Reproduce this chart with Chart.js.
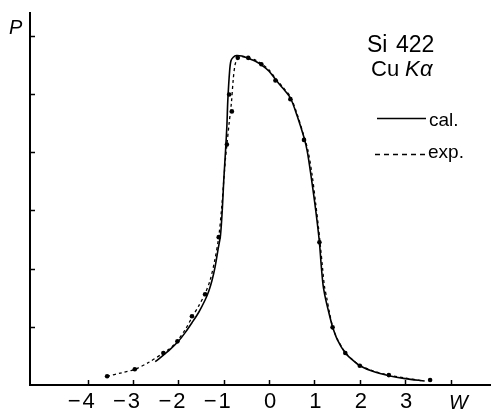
<!DOCTYPE html>
<html>
<head>
<meta charset="utf-8">
<script src="https://cdn.jsdelivr.net/npm/chart.js@4/dist/chart.umd.min.js"></script>
<style>
  html, body { margin: 0; padding: 0; background: #fff; }
  #chart { display: block; }
</style>
</head>
<body>
<canvas id="chart" width="494" height="411"></canvas>
<script>
// calculated curve (solid)
const calW = [-2.51, -2.21, -1.99, -1.85, -1.70, -1.55, -1.41, -1.33, -1.26, -1.19, -1.12, -1.07, -1.03, -1.00, -0.96, -0.93, -0.91, -0.87, -0.84, -0.79, -0.72, -0.60, -0.46, -0.30, -0.17, 0.00, 0.14, 0.30, 0.47, 0.62, 0.77, 0.84, 0.92, 1.00, 1.06, 1.11, 1.15, 1.19, 1.24, 1.30, 1.40, 1.51, 1.68, 1.84, 2.00, 2.30, 2.64, 3.00, 3.43];
const calP = [0.40, 0.59, 0.76, 0.90, 1.07, 1.25, 1.46, 1.61, 1.79, 2.03, 2.35, 2.58, 3.03, 3.50, 4.02, 4.45, 4.88, 5.39, 5.57, 5.63, 5.66, 5.65, 5.61, 5.56, 5.50, 5.39, 5.25, 5.10, 4.93, 4.62, 4.25, 4.02, 3.62, 3.17, 2.80, 2.45, 2.05, 1.72, 1.50, 1.30, 1.00, 0.77, 0.55, 0.43, 0.33, 0.23, 0.16, 0.11, 0.07];

// experimental curve (dashed)
const expCurveW = [-3.57, -3.25, -2.96, -2.65, -2.33, -2.15, -2.02, -1.85, -1.70, -1.55, -1.41, -1.30, -1.20, -1.11, -1.05, -1.00, -0.96, -0.93, -0.88, -0.83, -0.79, -0.75, -0.70, -0.62, -0.46, -0.30, -0.17, 0.00, 0.14, 0.30, 0.47, 0.62, 0.77, 0.86, 0.95, 1.03, 1.09, 1.13, 1.18, 1.22, 1.27, 1.33, 1.40, 1.51, 1.68, 1.84, 2.00, 2.30, 2.64, 3.00, 3.40];
const expCurveP = [0.15, 0.21, 0.27, 0.39, 0.55, 0.65, 0.76, 0.95, 1.16, 1.36, 1.57, 1.80, 2.13, 2.54, 3.00, 3.50, 3.90, 4.13, 4.50, 4.85, 5.25, 5.50, 5.60, 5.64, 5.62, 5.58, 5.52, 5.41, 5.27, 5.12, 4.95, 4.65, 4.27, 4.02, 3.60, 3.10, 2.70, 2.40, 2.00, 1.70, 1.50, 1.25, 1.00, 0.78, 0.56, 0.43, 0.34, 0.24, 0.17, 0.12, 0.07];

// measured points
const expW = [-3.57, -2.96, -2.33, -2.02, -1.70, -1.41, -1.11, -0.93, -0.88, -0.82, -0.69, -0.46, -0.17, 0.14, 0.47, 0.77, 1.11, 1.40, 1.68, 2.00, 2.64, 3.55];
const expP = [0.15, 0.27, 0.55, 0.75, 1.18, 1.56, 2.54, 4.13, 4.99, 4.70, 5.62, 5.62, 5.51, 5.23, 4.91, 4.21, 2.45, 0.99, 0.55, 0.33, 0.17, 0.086];

// axes
const xTicks = [-4, -3, -2, -1, 0, 1, 2, 3, 4];
const xTickLabels = ['\u22124', '\u22123', '\u22122', '\u22121', '0', '1', '2', '3', ''];
const yTicks = [1, 2, 3, 4, 5, 6];

const toPoints = (xs, ys) => xs.map((x, i) => ({ x: x, y: ys[i] }));

const FONT = '"Liberation Sans", Arial, sans-serif';

// 坐标轴内侧刻度、刻度标签和右上角注释
const decorPlugin = {
    id: 'decor',
    afterDraw(chart) {
        const ctx = chart.ctx;
        const xs = chart.scales.x;
        const ys = chart.scales.y;
        const area = chart.chartArea;
        ctx.save();
        ctx.strokeStyle = '#000';
        ctx.fillStyle = '#000';
        ctx.lineWidth = 1.5;

        // inward ticks
        yTicks.forEach(v => {
            const py = Math.round(ys.getPixelForValue(v)) + 0.5;
            ctx.beginPath();
            ctx.moveTo(area.left, py);
            ctx.lineTo(area.left + 5, py);
            ctx.stroke();
        });
        xTicks.forEach(v => {
            const px = Math.round(xs.getPixelForValue(v)) + 0.5;
            ctx.beginPath();
            ctx.moveTo(px, area.bottom);
            ctx.lineTo(px, area.bottom - 5);
            ctx.stroke();
        });

        // tick labels: digits centred on the tick, minus sign hanging left
        ctx.font = '22px ' + FONT;
        ctx.textAlign = 'left';
        ctx.textBaseline = 'alphabetic';
        xTicks.forEach((v, i) => {
            const label = xTickLabels[i];
            if (!label) return;
            const px = xs.getPixelForValue(v);
            const digits = label.replace('\u2212', '');
            const dw = ctx.measureText(digits).width;
            const mw = label.length > digits.length ? ctx.measureText('\u2212').width + 2 : 0;
            if (mw) {
                ctx.fillText('\u2212', px - dw / 2 - mw + 1, 408);
            }
            ctx.fillText(digits, px - dw / 2 + 1, 408);
        });

        // axis names
        ctx.font = 'italic 20px ' + FONT;
        ctx.fillText('P', 9, 34);
        ctx.fillText('W', 449, 409);

        // annotation
        ctx.font = '23px ' + FONT;
        ctx.fillText('Si', 367, 52);
        ctx.fillText('422', 396, 52);
        ctx.font = '22px ' + FONT;
        ctx.fillText('Cu', 371, 76);
        ctx.font = 'italic 22px ' + FONT;
        ctx.fillText('K', 405, 76);
        ctx.fillText('\u03b1', 420, 76);

        // legend
        ctx.font = '19px ' + FONT;
        ctx.lineWidth = 1.6;
        ctx.beginPath();
        ctx.moveTo(377, 118.5);
        ctx.lineTo(426, 118.5);
        ctx.stroke();
        ctx.fillText('cal.', 429, 126);

        ctx.lineWidth = 1.4;
        ctx.setLineDash([5, 4]);
        ctx.beginPath();
        ctx.moveTo(375, 154.5);
        ctx.lineTo(428, 154.5);
        ctx.stroke();
        ctx.setLineDash([]);
        ctx.fillText('exp.', 428, 158);

        ctx.restore();
    }
};

new Chart(document.getElementById('chart'), {
    type: 'scatter',
    data: {
        datasets: [
            {
                label: 'cal.',
                data: toPoints(calW, calP),
                showLine: true,
                borderColor: '#000',
                borderWidth: 1.6,
                pointRadius: 0,
                tension: 0.3
            },
            {
                label: 'exp.',
                data: toPoints(expCurveW, expCurveP),
                showLine: true,
                borderColor: '#000',
                borderWidth: 1.3,
                borderDash: [3, 3],
                pointRadius: 0,
                tension: 0.3
            },
            {
                label: 'exp. points',
                data: toPoints(expW, expP),
                showLine: false,
                pointRadius: 2.3,
                pointBackgroundColor: '#000',
                pointBorderWidth: 0
            }
        ]
    },
    options: {
        responsive: false,
        animation: false,
        layout: { padding: { top: 13, left: 0, right: 0, bottom: 0 } },
        plugins: {
            legend: { display: false },
            tooltip: { enabled: false }
        },
        scales: {
            x: {
                type: 'linear',
                min: -5.27,
                max: 4.87,
                grid: { display: false },
                border: { display: true, color: '#000', width: 2 },
                ticks: { display: false },
                afterFit: s => { s.height = 26; }
            },
            y: {
                type: 'linear',
                min: 0,
                max: 6.39,
                grid: { display: false },
                border: { display: true, color: '#000', width: 2 },
                ticks: { display: false },
                afterFit: s => { s.width = 30; }
            }
        }
    },
    plugins: [decorPlugin]
});
</script>
</body>
</html>
